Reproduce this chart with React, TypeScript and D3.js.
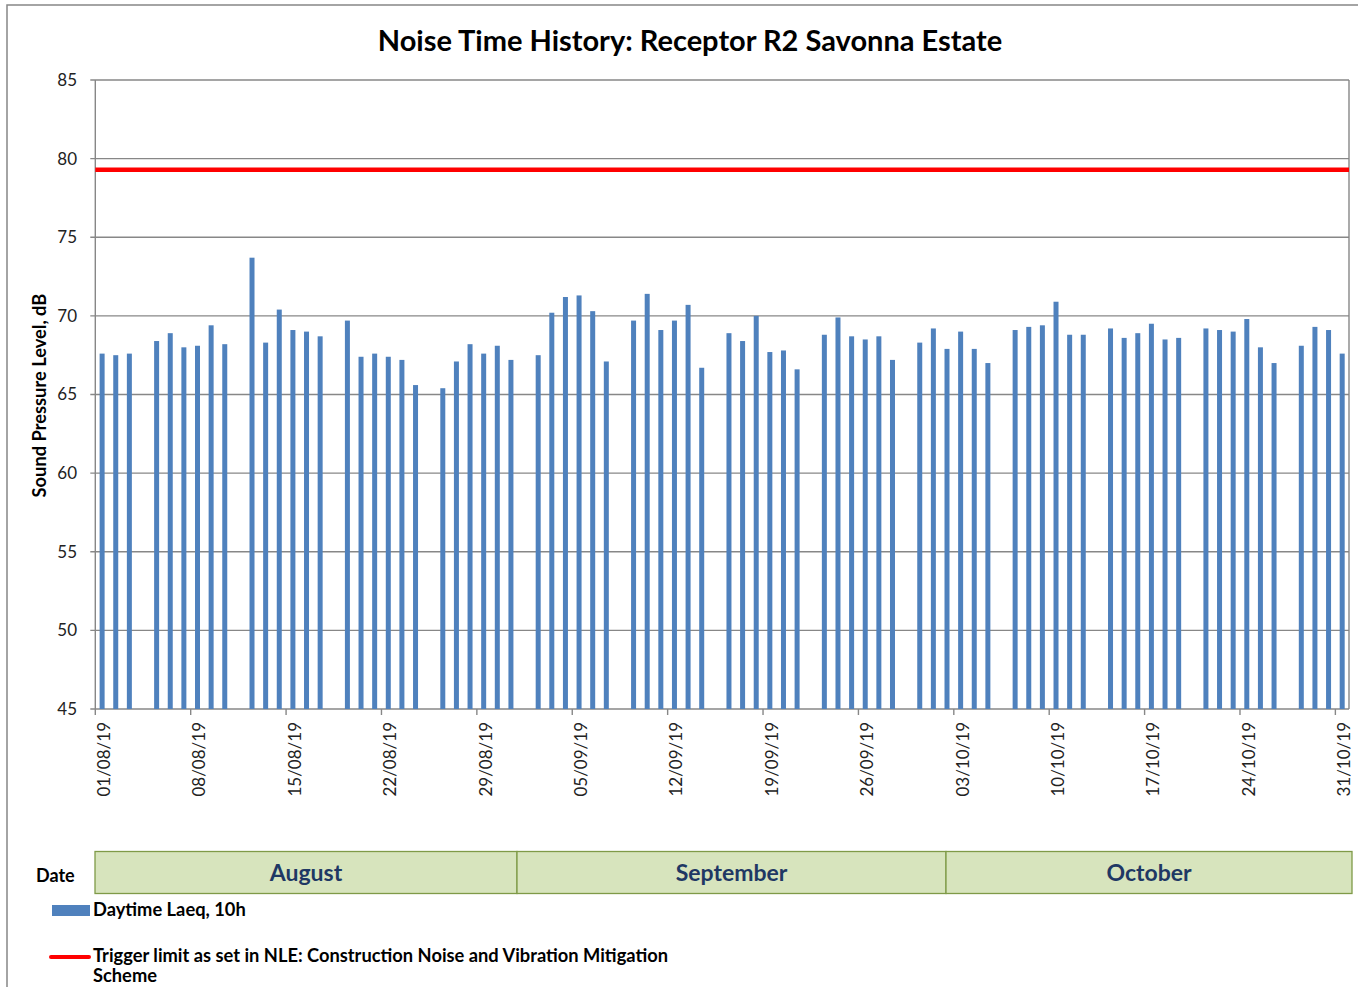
import React, { useRef, useEffect } from 'react';
import * as d3 from 'd3';

// measured days (no readings on Sundays)
const dates = [
  '2019-08-01', '2019-08-02', '2019-08-03',
  '2019-08-05', '2019-08-06', '2019-08-07', '2019-08-08', '2019-08-09', '2019-08-10',
  '2019-08-12', '2019-08-13', '2019-08-14', '2019-08-15', '2019-08-16', '2019-08-17',
  '2019-08-19', '2019-08-20', '2019-08-21', '2019-08-22', '2019-08-23', '2019-08-24',
  '2019-08-26', '2019-08-27', '2019-08-28', '2019-08-29', '2019-08-30', '2019-08-31',
  '2019-09-02', '2019-09-03', '2019-09-04', '2019-09-05', '2019-09-06', '2019-09-07',
  '2019-09-09', '2019-09-10', '2019-09-11', '2019-09-12', '2019-09-13', '2019-09-14',
  '2019-09-16', '2019-09-17', '2019-09-18', '2019-09-19', '2019-09-20', '2019-09-21',
  '2019-09-23', '2019-09-24', '2019-09-25', '2019-09-26', '2019-09-27', '2019-09-28',
  '2019-09-30', '2019-10-01', '2019-10-02', '2019-10-03', '2019-10-04', '2019-10-05',
  '2019-10-07', '2019-10-08', '2019-10-09', '2019-10-10', '2019-10-11', '2019-10-12',
  '2019-10-14', '2019-10-15', '2019-10-16', '2019-10-17', '2019-10-18', '2019-10-19',
  '2019-10-21', '2019-10-22', '2019-10-23', '2019-10-24', '2019-10-25', '2019-10-26',
  '2019-10-28', '2019-10-29', '2019-10-30', '2019-10-31',
];

const laeq = [
  67.6, 67.5, 67.6,
  68.4, 68.9, 68.0, 68.1, 69.4, 68.2,
  73.7, 68.3, 70.4, 69.1, 69.0, 68.7,
  69.7, 67.4, 67.6, 67.4, 67.2, 65.6,
  65.4, 67.1, 68.2, 67.6, 68.1, 67.2,
  67.5, 70.2, 71.2, 71.3, 70.3, 67.1,
  69.7, 71.4, 69.1, 69.7, 70.7, 66.7,
  68.9, 68.4, 70.0, 67.7, 67.8, 66.6,
  68.8, 69.9, 68.7, 68.5, 68.7, 67.2,
  68.3, 69.2, 67.9, 69.0, 67.9, 67.0,
  69.1, 69.3, 69.4, 70.9, 68.8, 68.8,
  69.2, 68.6, 68.9, 69.5, 68.5, 68.6,
  69.2, 69.1, 69.0, 69.8, 68.0, 67.0,
  68.1, 69.3, 69.1, 67.6,
];

const triggerLimit = 79.3;
const yTicks = [45, 50, 55, 60, 65, 70, 75, 80, 85];
const months = ['August', 'September', 'October'];

const title = 'Noise Time History: Receptor R2 Savonna Estate';
const yTitle = 'Sound Pressure Level, dB';
const barLegend = 'Daytime Laeq, 10h';
const lineLegend = ['Trigger limit as set in NLE: Construction Noise and Vibration Mitigation', 'Scheme'];

const FONT = 'Lato, "Open Sans", sans-serif';

const App: React.FC = () => {
  const svgRef = useRef<SVGSVGElement | null>(null);
  const width = 1358;
  const height = 987;

  useEffect(() => {
    if (!svgRef.current) return;
    const svg = d3.select(svgRef.current);
    svg.selectAll('*').remove();

    const parse = d3.utcParse('%Y-%m-%d');
    const fmt = d3.utcFormat('%d/%m/%y');
    const start = parse('2019-08-01') as Date;
    const end = parse('2019-11-01') as Date;

    const plot = { left: 95.3, right: 1349, top: 80, bottom: 709 };

    const x = d3.scaleUtc().domain([start, end]).range([plot.left, plot.right]);
    const y = d3.scaleLinear().domain([45, 85]).range([plot.bottom, plot.top]);
    const mid = (d: Date) => x(d3.utcHour.offset(d, 12));

    // outer chart frame
    svg.append('rect')
      .attr('x', 7).attr('y', 5)
      .attr('width', 1400).attr('height', 1100)
      .attr('fill', 'white')
      .attr('stroke', '#878787')
      .attr('stroke-width', 1.5);

    svg.append('text')
      .attr('x', 690).attr('y', 51)
      .attr('text-anchor', 'middle')
      .attr('font-family', FONT)
      .attr('font-weight', 700)
      .attr('font-size', 29)
      .attr('fill', '#000')
      .text(title);

    // gridlines
    svg.append('g')
      .selectAll('line')
      .data(yTicks)
      .join('line')
      .attr('x1', plot.left - 5).attr('x2', plot.right)
      .attr('y1', d => y(d)).attr('y2', d => y(d))
      .attr('stroke', '#878787')
      .attr('stroke-width', 1.4);

    svg.append('g')
      .selectAll('text')
      .data(yTicks)
      .join('text')
      .attr('x', 77).attr('y', d => y(d))
      .attr('dy', '0.35em')
      .attr('text-anchor', 'end')
      .attr('font-family', FONT)
      .attr('font-size', 17)
      .attr('fill', '#222')
      .text(d => d);

    // plot borders
    svg.append('line')
      .attr('x1', plot.left).attr('x2', plot.left)
      .attr('y1', plot.top).attr('y2', plot.bottom)
      .attr('stroke', '#878787').attr('stroke-width', 1.4);
    svg.append('line')
      .attr('x1', plot.right).attr('x2', plot.right)
      .attr('y1', plot.top).attr('y2', plot.bottom)
      .attr('stroke', '#878787').attr('stroke-width', 1.4);

    svg.append('text')
      .attr('transform', `translate(40,${(plot.top + plot.bottom) / 2 + 1}) rotate(-90)`)
      .attr('text-anchor', 'middle')
      .attr('dy', '0.35em')
      .attr('font-family', FONT)
      .attr('font-weight', 700)
      .attr('font-size', 18.3)
      .attr('fill', '#000')
      .text(yTitle);

    // bars
    const rows = dates.map((d, i) => ({ date: parse(d) as Date, value: laeq[i] }));
    const barW = 5;
    svg.append('g')
      .selectAll('rect')
      .data(rows)
      .join('rect')
      .attr('x', d => mid(d.date) - barW / 2)
      .attr('y', d => y(d.value))
      .attr('width', barW)
      .attr('height', d => y(45) - y(d.value))
      .attr('fill', '#4F81BD');

    // trigger limit
    svg.append('line')
      .attr('x1', plot.left).attr('x2', plot.right)
      .attr('y1', y(triggerLimit)).attr('y2', y(triggerLimit))
      .attr('stroke', '#FF0000')
      .attr('stroke-width', 4.5);

    // x axis
    const weekly = d3.utcDay.range(start, end, 7);
    svg.append('g')
      .selectAll('line')
      .data(weekly)
      .join('line')
      .attr('x1', d => x(d)).attr('x2', d => x(d))
      .attr('y1', plot.bottom).attr('y2', plot.bottom + 6)
      .attr('stroke', '#878787').attr('stroke-width', 1.4);

    svg.append('g')
      .selectAll('text')
      .data(weekly)
      .join('text')
      .attr('transform', d => `translate(${mid(d) + 2},722) rotate(-90)`)
      .attr('text-anchor', 'end')
      .attr('dy', '0.35em')
      .attr('font-family', FONT)
      .attr('font-size', 17)
      .attr('fill', '#222')
      .text(d => fmt(d));

    // month band below the chart
    const bandEdges = [95, 517, 946, 1352];
    const band = svg.append('g');
    months.forEach((m, i) => {
      band.append('rect')
        .attr('x', bandEdges[i]).attr('y', 851.5)
        .attr('width', bandEdges[i + 1] - bandEdges[i]).attr('height', 42)
        .attr('fill', '#D7E4BD')
        .attr('stroke', '#7F9A48')
        .attr('stroke-width', 1.3);
      band.append('text')
        .attr('x', (bandEdges[i] + bandEdges[i + 1]) / 2).attr('y', 873)
        .attr('dy', '0.35em')
        .attr('text-anchor', 'middle')
        .attr('font-family', FONT)
        .attr('font-weight', 700)
        .attr('font-size', 23)
        .attr('fill', '#1F3864')
        .text(m);
    });

    svg.append('text')
      .attr('x', 36).attr('y', 876)
      .attr('dy', '0.35em')
      .attr('font-family', FONT)
      .attr('font-weight', 700)
      .attr('font-size', 18)
      .attr('fill', '#000')
      .text('Date');

    // legend
    svg.append('rect')
      .attr('x', 52).attr('y', 905)
      .attr('width', 38).attr('height', 11)
      .attr('fill', '#4F81BD');
    svg.append('text')
      .attr('x', 93).attr('y', 910)
      .attr('dy', '0.35em')
      .attr('font-family', FONT)
      .attr('font-weight', 700)
      .attr('font-size', 18.3)
      .attr('fill', '#000')
      .text(barLegend);

    svg.append('line')
      .attr('x1', 51).attr('x2', 89)
      .attr('y1', 957).attr('y2', 957)
      .attr('stroke', '#FF0000')
      .attr('stroke-width', 4)
      .attr('stroke-linecap', 'round');
    svg.append('g')
      .selectAll('text')
      .data(lineLegend)
      .join('text')
      .attr('x', 93).attr('y', (_, i) => 956 + i * 20)
      .attr('dy', '0.35em')
      .attr('font-family', FONT)
      .attr('font-weight', 700)
      .attr('font-size', 18.3)
      .attr('fill', '#000')
      .text(d => d);
  }, []);

  return (
    <svg
      ref={svgRef}
      width={width}
      height={height}
      style={{ position: 'absolute', left: 0, top: 0 }}
    />
  );
};

export default App;
